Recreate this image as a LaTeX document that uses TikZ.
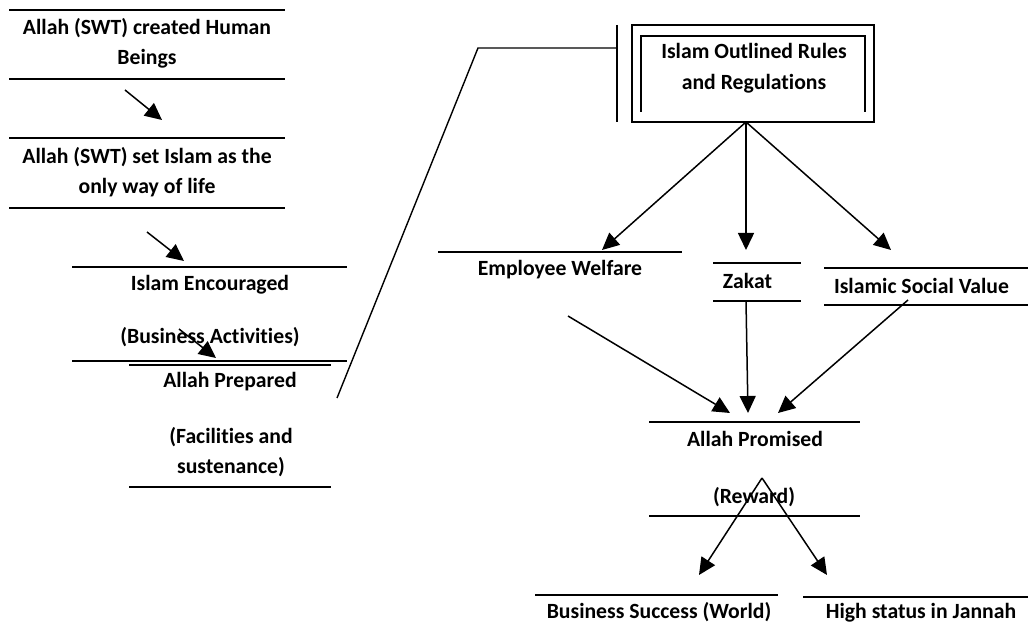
\documentclass[tikz,border=0pt]{standalone}
\usepackage{fontspec}
\setmainfont{Carlito}[Ligatures=NoCommon]
\usetikzlibrary{arrows.meta}
\begin{document}
\begin{tikzpicture}[x=1pt,y=-1pt,
  hl/.style={line width=2.2pt},
  arr/.style={line width=1.5pt,-{Triangle[length=17pt,width=16pt]}},
  lbl/.style={font=\bfseries\fontsize{21.7}{30}\selectfont, inner sep=0pt, align=center},
]
\useasboundingbox (0,0) rectangle (1028,628);

% ---------- left column ----------
\draw[hl] (9,10) -- (285,10);
\node[lbl] (t1) at (147,43) {Allah (SWT) created Human\\Beings};
\draw[hl] (9,79) -- (285,79);
\coordinate (a1s) at (125,90); \coordinate (a1e) at (162,120);
\draw[arr] (a1s) -- (a1e);
\draw[hl] (9,138) -- (285,138);
\node[lbl] (t2) at (147,172.5) {Allah (SWT) set Islam as the\\only way of life};
\draw[hl] (9,208) -- (285,208);
\coordinate (a2s) at (147,232); \coordinate (a2e) at (184,261);
\draw[arr] (a2s) -- (a2e);
\draw[hl] (72,267) -- (347,267);
\node[lbl] (t3a) at (210,285) {Islam Encouraged};
\node[lbl] (t3b) at (210,337) {(Business Activities)};
\draw[hl] (72,361) -- (347,361);
\draw[hl] (129,365) -- (331,365);
\coordinate (a3s) at (179,329); \coordinate (a3e) at (216,358);
\draw[arr] (a3s) -- (a3e);
\node[lbl] (t4a) at (230,382) {Allah Prepared};
\node[lbl] (t4b) at (231,452.5) {(Facilities and\\sustenance)};
\draw[hl] (129,487) -- (331,487);

% ---------- connector to rules box ----------
\coordinate (c1) at (337,398);
\coordinate (c2) at (478,48);
\coordinate (c3) at (617,48);
\draw[line width=1.4pt] (c1) -- (c2) -- (c3);
\draw[line width=1.6pt] (617,25) -- (617,122);

% ---------- rules box ----------
\draw[line width=1.5pt] (632,25) rectangle (874,122);
\draw[line width=2.4pt] (641,112) -- (641,36) -- (865,36) -- (865,112);
\node[lbl,font=\bfseries\fontsize{21.7}{31}\selectfont] (rules) at (754,68.5) {Islam Outlined Rules\\and Regulations};
\coordinate (rb) at (746,122);

% ---------- middle row ----------
\draw[hl] (438,252) -- (682,252);
\node[lbl] (ew) at (560,270) {Employee Welfare};
\draw[hl] (713,263) -- (801,263);
\node[lbl] (zk) at (747.5,281) {Zakat};
\draw[hl] (713,301) -- (801,301);
\draw[hl] (824,268) -- (1028,268);
\node[lbl] (isv) at (921.5,286) {Islamic Social Value};
\draw[hl] (824,305) -- (1028,305);

\coordinate (ewt) at (602,250);
\coordinate (zkt) at (746,250);
\coordinate (isvt) at (891,250);
\draw[arr] (rb) -- (ewt);
\draw[arr] (rb) -- (zkt);
\draw[arr] (rb) -- (isvt);

% ---------- Allah promised ----------
\coordinate (ews) at (568,316);
\coordinate (zks) at (746,301);
\coordinate (isvs) at (908,300);
\coordinate (p1) at (730,413);
\coordinate (p2) at (748,413);
\coordinate (p3) at (778,413);
\draw[arr] (ews) -- (p1);
\draw[arr] (zks) -- (p2);
\draw[arr] (isvs) -- (p3);

\draw[hl] (649,422) -- (860,422);
\node[lbl] (ap) at (755,439) {Allah Promised};
\node[lbl] (rw) at (754,497) {(Reward)};
\draw[hl] (649,516) -- (860,516);

\coordinate (apex) at (762,478);
\coordinate (bst) at (699,575);
\coordinate (hst) at (827,575);
\draw[arr] (apex) -- (bst);
\draw[arr] (apex) -- (hst);

% ---------- bottom ----------
\draw[hl] (535,595) -- (778,595);
\node[lbl] (bs) at (659,612) {Business Success (World)};
\draw[hl] (803,597) -- (1028,597);
\node[lbl] (hs) at (921,613) {High status in Jannah};
\end{tikzpicture}
\end{document}
